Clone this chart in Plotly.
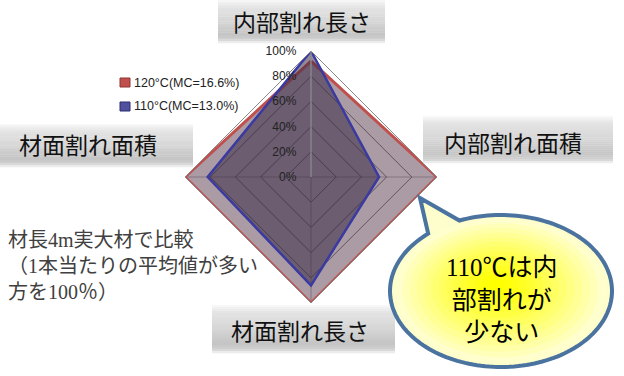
import numpy as np
import plotly.graph_objects as go

# ---- data ----
categories = ["内部割れ長さ", "内部割れ面積", "材面割れ長さ", "材面割れ面積"]
series_names = ["120°C(MC=16.6%)", "110°C(MC=13.0%)"]
values_120 = [92, 100, 100, 100]
values_110 = [100, 54, 86, 82]
radial_ticks = [0, 20, 40, 60, 80, 100]
tick_labels = [f"{v}%" for v in radial_ticks]
note_lines = ["材長4m実大材で比較", "（1本当たりの平均値が多い", "方を100％）"]
bubble_lines = ["110℃は内", "部割れが", "少ない"]

W, H = 624, 376


def px(x):
    return x / W


def py(y):
    return 1 - y / H


JP_SANS = "Noto Sans CJK JP"
JP_SERIF = "Liberation Serif, Noto Sans CJK JP"

fig = go.Figure()

fig.add_trace(go.Scatterpolar(
    r=values_120 + values_120[:1], theta=categories + categories[:1],
    mode="lines", fill="toself", fillcolor="rgba(113,88,105,0.6)",
    line=dict(color="#c0504d", width=3), name=series_names[0], showlegend=False,
))
fig.add_trace(go.Scatterpolar(
    r=values_110 + values_110[:1], theta=categories + categories[:1],
    mode="lines", fill="toself", fillcolor="rgba(57,42,69,0.55)",
    line=dict(color="#3a3aa0", width=2.5), name=series_names[1], showlegend=False,
))

shapes = []
annotations = []


# grey shaded label boxes around the axis names
def shaded_box(x0, y0, x1, y1, n=24):
    stops = [(0.0, 250), (0.15, 228), (0.5, 214), (0.8, 196), (0.92, 208), (1.0, 246)]
    ts = [s[0] for s in stops]
    gs = [s[1] for s in stops]
    h = (y1 - y0) / n
    for i in range(n):
        t = (i + 0.5) / n
        g = int(round(np.interp(t, ts, gs)))
        shapes.append(dict(type="rect", xref="paper", yref="paper",
                           x0=px(x0), x1=px(x1), y0=py(y0 + i * h), y1=py(y0 + (i + 1) * h + 0.3),
                           fillcolor=f"rgb({g},{g},{g})", line=dict(width=0), layer="above"))


# boxes in category order: top, right, bottom, left
label_boxes = [
    (218, 0, 385, 43, 302, 21),
    (423, 116, 613, 163, 513, 142),
    (212, 305, 395, 353, 300, 330),
    (0, 124, 193, 167, 88, 144),
]
for (x0, y0, x1, y1, tx, ty), name in zip(label_boxes, categories):
    shaded_box(x0, y0, x1, y1)
    annotations.append(dict(text=name, x=px(tx), y=py(ty), xref="paper", yref="paper",
                            showarrow=False, xanchor="center", yanchor="middle",
                            font=dict(family=JP_SANS, size=23, color="#111")))

# legend swatches
legend_items = [(78, "#c0504d", "#8e3432"), (102, "#50509e", "#2c2c70")]
for (ytop, fc, lc), name in zip(legend_items, series_names):
    shapes.append(dict(type="rect", xref="paper", yref="paper",
                       x0=px(120), x1=px(130), y0=py(ytop), y1=py(ytop + 9),
                       fillcolor=fc, line=dict(color=lc, width=1)))
    annotations.append(dict(text=name, x=px(132), y=py(ytop + 4.5), xref="paper", yref="paper",
                            showarrow=False, xanchor="left", yanchor="middle",
                            font=dict(family="Liberation Sans", size=12.5, color="#222")))

# speech bubble
cx, cy, a, b = 501, 291, 111, 76
tip = (420, 198)
th1, th2 = np.deg2rad(-131), np.deg2rad(-112 - 360)
angles = np.linspace(th1, th2, 160)
pts = [(cx + a * np.cos(t), cy + b * np.sin(t)) for t in angles]
path = f"M {px(tip[0]):.5f},{py(tip[1]):.5f} "
path += " ".join(f"L {px(x):.5f},{py(y):.5f}" for x, y in pts)
path += " Z"
shapes.append(dict(type="path", path=path, xref="paper", yref="paper",
                   fillcolor="rgb(254,254,205)", line=dict(color="#4a73a0", width=4), layer="above"))

gcx, gcy = 496, 284
steps = 14
for i in range(steps):
    s = 0.95 * (1 - i / steps)
    t = i / (steps - 1)
    blue = int(round(205 * (1 - t) ** 1.2))
    ea, eb = a * s, b * s
    ox = cx + (gcx - cx) * (1 - s)
    oy = cy + (gcy - cy) * (1 - s)
    shapes.append(dict(type="circle", xref="paper", yref="paper",
                       x0=px(ox - ea), x1=px(ox + ea), y0=py(oy - eb), y1=py(oy + eb),
                       fillcolor=f"rgb(255,255,{blue})", line=dict(width=0), layer="above"))

annotations.append(dict(text="<br>".join(bubble_lines), x=px(502), y=py(300), xref="paper", yref="paper",
                        showarrow=False, xanchor="center", yanchor="middle", align="center",
                        font=dict(family=JP_SERIF, size=25, color="#000")))

annotations.append(dict(text="<br>".join(note_lines), x=px(6), y=py(266), xref="paper", yref="paper",
                        showarrow=False, xanchor="left", yanchor="middle", align="left",
                        font=dict(family=JP_SERIF, size=20, color="#404040")))

fig.update_layout(
    width=W, height=H,
    margin=dict(l=0, r=0, t=0, b=0),
    paper_bgcolor="white",
    showlegend=False,
    polar=dict(
        domain=dict(x=[px(185), px(437)], y=[py(303), py(51)]),
        bgcolor="white",
        gridshape="linear",
        angularaxis=dict(rotation=90, direction="clockwise", showticklabels=False, ticks="",
                         gridcolor="#a0a0a0", gridwidth=1, showline=True,
                         linecolor="#8a8a8a", linewidth=1),
        radialaxis=dict(range=[0, 100], tickvals=radial_ticks, ticktext=tick_labels,
                        angle=90, tickangle=90, side="counterclockwise",
                        ticks="outside", ticklen=10, tickcolor="rgba(0,0,0,0)",
                        gridcolor="#4a4a4a", gridwidth=0.6, showline=True,
                        linecolor="#a0a0a0",
                        tickfont=dict(family="Liberation Sans", size=12, color="#222")),
    ),
    shapes=shapes,
    annotations=annotations,
)

fig.write_html("out.html")
